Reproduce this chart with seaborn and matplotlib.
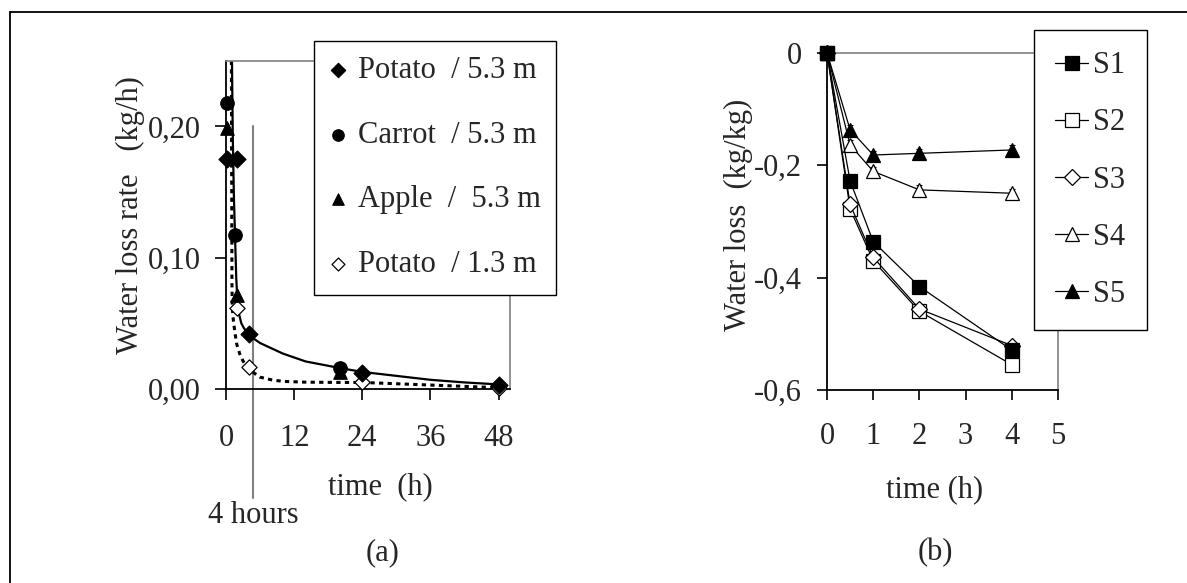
import numpy as np
import pandas as pd
import matplotlib
matplotlib.use("Agg")
import matplotlib.pyplot as plt
from matplotlib.lines import Line2D
import seaborn as sns

# ---------------- data: panel (a) ----------------
potato53_t = [0.25, 2, 4, 24, 48]
potato53_y = [0.175, 0.175, 0.042, 0.012, 0.003]
carrot_t = [0.25, 1.6, 20]
carrot_y = [0.218, 0.117, 0.016]
apple_t = [0.25, 1.9, 20]
apple_y = [0.199, 0.0715, 0.013]
potato13_t = [1.9, 4, 24, 48]
potato13_y = [0.062, 0.017, 0.0056, 0.001]

# fitted curves
fit53_t = [1.05, 1.2, 1.4, 1.6, 1.8, 2.0, 2.3, 2.7, 3.2, 4, 5, 6, 8, 10, 14, 20, 24, 30, 36, 42, 48]
fit53_y = [0.25, 0.19, 0.145, 0.115, 0.085, 0.068, 0.057, 0.050, 0.046, 0.042, 0.038, 0.035,
           0.031, 0.027, 0.021, 0.016, 0.013, 0.010, 0.007, 0.005, 0.0035]
fit13_t = [0.95, 1.0, 1.05, 1.1, 1.3, 1.6, 1.9, 2.4, 2.8, 3.3, 4, 5, 6, 8, 10, 14, 20, 24, 30, 36, 42, 48]
fit13_y = [0.25, 0.16, 0.08, 0.062, 0.052, 0.042, 0.034, 0.027, 0.023, 0.019, 0.016, 0.012, 0.009,
           0.007, 0.0058, 0.0052, 0.005, 0.005, 0.004, 0.003, 0.002, 0.001]

a_xticks = [0, 12, 24, 36, 48]
a_yticks = [0.0, 0.1, 0.2]
a_yticklabels = ["0,00", "0,10", "0,20"]
mark_t = 4.8          # "4 hours" marker line
mark_top = 0.20
mark_bottom = -0.083
mark_label_y = -0.096

# ---------------- data: panel (b) ----------------
t_b = [0, 0.5, 1, 2, 4]
S1 = [0, -0.228, -0.336, -0.416, -0.529]
S2 = [0, -0.278, -0.370, -0.460, -0.555]
S3 = [0, -0.270, -0.364, -0.456, -0.521]
S4 = [0, -0.164, -0.211, -0.244, -0.250]
S5 = [0, -0.137, -0.182, -0.179, -0.173]
err_b = [0, 0.008, 0.008, 0.008, 0.008]
b_xticks = [0, 1, 2, 3, 4, 5]
b_yticks = [0, -0.2, -0.4, -0.6]
b_yticklabels = ["0", "-0,2", "-0,4", "-0,6"]

# ---------------- style ----------------
sns.set_style("white")
plt.rcParams['font.family'] = ['Liberation Serif', 'DejaVu Serif']
FS = 22
plt.rcParams['font.size'] = FS

W, H = 1187, 583
fig = plt.figure(figsize=(W / 100, H / 100), dpi=100)

def fx(px):
    return px / W

def fy(py):
    return 1 - py / H

axA = fig.add_axes([fx(226), fy(389), fx(510 - 226), (389 - 60.7) / H])
axB = fig.add_axes([fx(827), fy(390), fx(1058 - 827), (390 - 52.7) / H])

GRAY = "#808080"

# ---------------- panel (a) ----------------
sns.lineplot(x=fit53_t, y=fit53_y, ax=axA, color="black", lw=1.6, sort=False,
             legend=False, zorder=2)
sns.lineplot(x=fit13_t, y=fit13_y, ax=axA, color="black", lw=2.2, sort=False,
             dashes=False, legend=False, zorder=2, linestyle=(0, (1.4, 1.4)))

sns.scatterplot(x=potato53_t, y=potato53_y, ax=axA, marker="D", s=75, color="black",
                edgecolor="black", linewidth=0.8, label="Potato  / 5.3 m", zorder=4, clip_on=False)
sns.scatterplot(x=carrot_t, y=carrot_y, ax=axA, marker="o", s=95, color="black",
                edgecolor="black", linewidth=0.8, label="Carrot  / 5.3 m", zorder=4, clip_on=False)
sns.scatterplot(x=apple_t, y=apple_y, ax=axA, marker="^", s=95, color="black",
                edgecolor="black", linewidth=0.8, label="Apple  /  5.3 m", zorder=4, clip_on=False)
sns.scatterplot(x=potato13_t, y=potato13_y, ax=axA, marker="D", s=60, color="white",
                edgecolor="black", linewidth=0.9, label="Potato  / 1.3 m", zorder=3, clip_on=False)

axA.plot([mark_t, mark_t], [mark_bottom, mark_top], color=GRAY, lw=1.5, clip_on=False, zorder=1)
axA.text(mark_t, mark_label_y, "4 hours", ha="center", va="center", fontsize=FS)

axA.set_xlim(0, 50)
axA.set_ylim(0, 0.25)
axA.set_xticks(a_xticks)
axA.set_yticks(a_yticks)
axA.set_yticklabels(a_yticklabels)
axA.tick_params(axis="both", direction="out", length=8, width=1.2, color="black",
                labelsize=FS, bottom=True, left=True)
axA.tick_params(axis="y", pad=10)
axA.tick_params(axis="x", pad=17)
axA.set_xlabel("time  (h)", fontsize=FS)
axA.set_ylabel("Water loss rate   (kg/h)", fontsize=FS)
axA.xaxis.set_label_coords((380 - 226) / 284, (389 - 487) / 328.3)
axA.xaxis.label.set_va("center")
axA.yaxis.set_label_coords((130 - 226) / 284, (389 - 215) / 328.3)
axA.yaxis.label.set_va("center")

legA = axA.legend(loc="upper left", bbox_to_anchor=(fx(314), fy(40.7)),
                  bbox_transform=fig.transFigure, borderaxespad=0, frameon=True,
                  fancybox=False, framealpha=1, edgecolor="black", fontsize=FS,
                  handlelength=0.55, handletextpad=0.39, labelspacing=1.17,
                  borderpad=0.5, markerscale=0.85)
legA.get_frame().set_linewidth(1.0)

# ---------------- panel (b) ----------------
series = [
    ("S1", S1, "s", "black", 10, 10),
    ("S2", S2, "s", "white", 10, 5),
    ("S3", S3, "D", "white", 8, 6),
    ("S4", S4, "^", "white", 10, 7),
    ("S5", S5, "^", "black", 10, 8),
]
for name, vals, mk, fc, ms, z in series:
    axB.errorbar(t_b, vals, yerr=err_b, fmt="none", ecolor="black", elinewidth=0.8,
                 capsize=2.5, capthick=0.8, zorder=z - 0.5, clip_on=False)
    sns.lineplot(x=t_b, y=vals, ax=axB, color="black", lw=0.9, marker=mk, markersize=ms,
                 markerfacecolor=fc, markeredgecolor="black", markeredgewidth=0.9,
                 label=name, zorder=z, clip_on=False)

axB.set_xlim(0, 5)
axB.set_ylim(-0.6, 0)
axB.set_xticks(b_xticks)
axB.set_yticks(b_yticks)
axB.set_yticklabels(b_yticklabels)
axB.tick_params(axis="both", direction="out", length=7, width=1.2, color="black",
                labelsize=FS, bottom=True, left=True)
axB.tick_params(axis="y", pad=11)
axB.tick_params(axis="x", pad=16)
axB.set_xlabel("time (h)", fontsize=FS)
axB.set_ylabel("Water loss  (kg/kg)", fontsize=FS)
axB.xaxis.set_label_coords((935 - 827) / 231, (390 - 490) / 337.3)
axB.xaxis.label.set_va("center")
axB.yaxis.set_label_coords((738 - 827) / 231, (390 - 215) / 337.3)
axB.yaxis.label.set_va("center")

legB = axB.legend(loc="upper left", bbox_to_anchor=(fx(1034), fy(30)),
                  bbox_transform=fig.transFigure, borderaxespad=0, frameon=True,
                  fancybox=False, framealpha=1, edgecolor="black", fontsize=FS,
                  handlelength=1.08, handletextpad=0.16, labelspacing=0.92,
                  borderpad=0.7)
legB.get_frame().set_linewidth(1.0)

for ax in (axA, axB):
    for side in ("left", "bottom"):
        ax.spines[side].set_color("black")
        ax.spines[side].set_linewidth(1.3)
    for side in ("top", "right"):
        ax.spines[side].set_color(GRAY)
        ax.spines[side].set_linewidth(1.2)
    ax.set_facecolor("white")

fig.text(fx(383), fy(553), "(a)", ha="center", va="center", fontsize=FS)
fig.text(fx(935), fy(553), "(b)", ha="center", va="center", fontsize=FS)

# outer frame (top and left edges visible in the picture)
fig.add_artist(Line2D([fx(10), 1.0], [fy(12), fy(12)], color="black", lw=1.3,
                      transform=fig.transFigure))
fig.add_artist(Line2D([fx(10), fx(10)], [fy(12), 0.0], color="black", lw=1.3,
                      transform=fig.transFigure))

fig.savefig("out.png", dpi=100, facecolor="white")
